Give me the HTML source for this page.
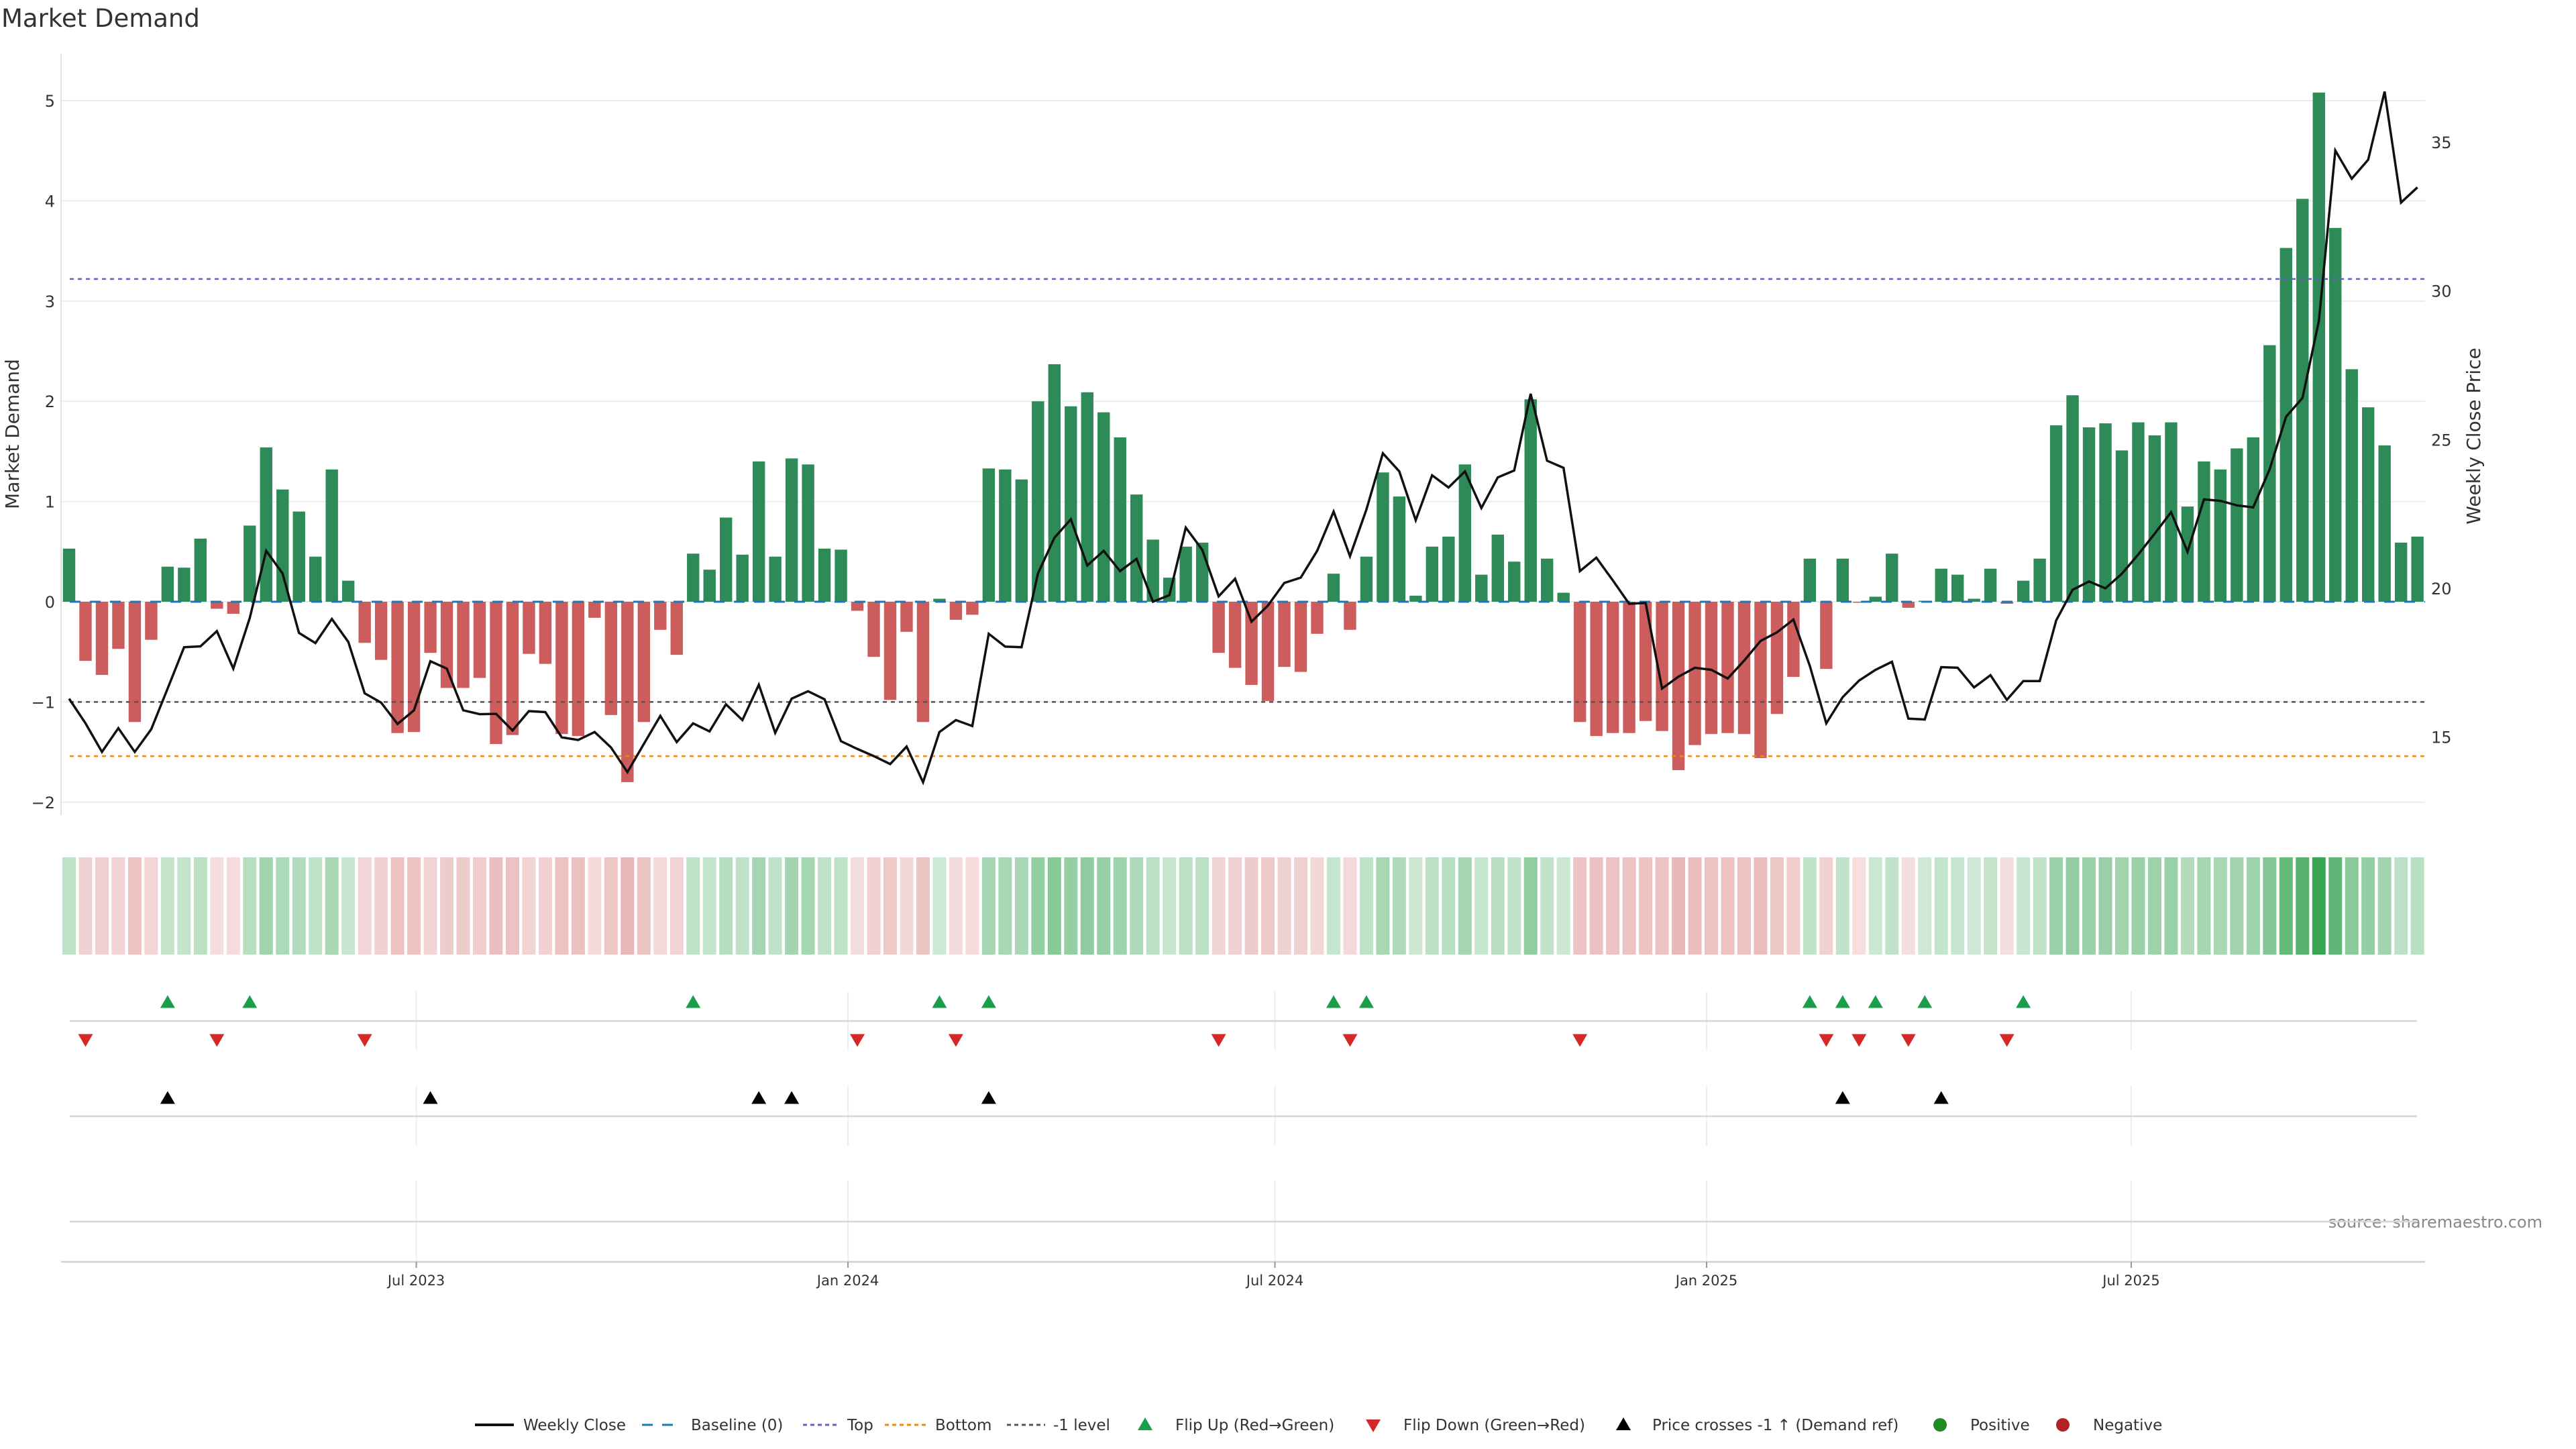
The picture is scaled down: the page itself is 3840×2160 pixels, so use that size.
<!DOCTYPE html>
<html><head><meta charset="utf-8"><title>Market Demand</title>
<style>
html,body{margin:0;padding:0;background:#fff;}
svg{display:block;font-family:"DejaVu Sans","Liberation Sans",sans-serif;}
</style></head>
<body>
<svg id="chart" width="3840" height="2160" viewBox="0 0 3840 2160" xmlns="http://www.w3.org/2000/svg">
<rect width="3840" height="2160" fill="#fff"/>
<text x="2" y="40" font-size="37" fill="#333">Market Demand</text>
<text transform="translate(28,647) rotate(-90)" text-anchor="middle" font-size="28" fill="#333">Market Demand</text>
<text transform="translate(3697,650) rotate(-90)" text-anchor="middle" font-size="28" fill="#333">Weekly Close Price</text>
<text x="3790" y="1830" text-anchor="end" font-size="24" fill="#888">source: sharemaestro.com</text>
<g id="grid"></g><g id="lower"></g><g id="bars"></g><g id="refs"></g><g id="line"></g><g id="heat"></g><g id="marks"></g><g id="axes"></g>
<g id="legend"></g>
</svg>
<script>
const demandValues = [0.53,-0.59,-0.73,-0.47,-1.2,-0.38,0.35,0.34,0.63,-0.07,
-0.12,0.76,1.54,1.12,0.9,0.45,1.32,0.21,-0.41,-0.58,
-1.31,-1.3,-0.51,-0.86,-0.86,-0.76,-1.42,-1.33,-0.52,-0.62,
-1.32,-1.34,-0.16,-1.13,-1.8,-1.2,-0.28,-0.53,0.48,0.32,
0.84,0.47,1.4,0.45,1.43,1.37,0.53,0.52,-0.09,-0.55,
-0.98,-0.3,-1.2,0.03,-0.18,-0.13,1.33,1.32,1.22,2.0,
2.37,1.95,2.09,1.89,1.64,1.07,0.62,0.24,0.55,0.59,
-0.51,-0.66,-0.83,-0.99,-0.65,-0.7,-0.32,0.28,-0.28,0.45,
1.29,1.05,0.06,0.55,0.65,1.37,0.27,0.67,0.4,2.02,
0.43,0.09,-1.2,-1.34,-1.31,-1.31,-1.19,-1.29,-1.68,-1.43,
-1.32,-1.31,-1.32,-1.56,-1.12,-0.75,0.43,-0.67,0.43,-0.01,
0.05,0.48,-0.06,0.01,0.33,0.27,0.03,0.33,-0.02,0.21,
0.43,1.76,2.06,1.74,1.78,1.51,1.79,1.66,1.79,0.95,
1.4,1.32,1.53,1.64,2.56,3.53,4.02,5.08,3.73,2.32,
1.94,1.56,0.59,0.65];
const closePrices = [16.29,15.46,14.5,15.3,14.5,15.26,16.63,18.02,18.05,18.56,
17.3,19.0,21.26,20.5,18.5,18.16,18.97,18.2,16.47,16.16,
15.44,15.9,17.55,17.3,15.9,15.77,15.78,15.22,15.87,15.84,
14.99,14.9,15.17,14.65,13.82,14.77,15.71,14.83,15.46,15.19,
16.1,15.57,16.76,15.14,16.29,16.54,16.27,14.86,14.6,14.36,
14.09,14.68,13.48,15.17,15.57,15.37,18.47,18.04,18.02,20.5,
21.7,22.32,20.77,21.26,20.58,20.99,19.55,19.77,22.04,21.3,
19.73,20.32,18.88,19.42,20.18,20.36,21.26,22.58,21.08,22.65,
24.54,23.93,22.29,23.8,23.39,23.93,22.7,23.73,23.96,26.54,
24.29,24.05,20.58,21.03,20.27,19.48,19.51,16.63,17.03,17.33,
17.26,16.97,17.57,18.23,18.52,18.95,17.39,15.46,16.34,16.9,
17.26,17.53,15.62,15.59,17.35,17.33,16.67,17.08,16.25,16.88,
16.88,18.92,19.95,20.23,20.0,20.49,21.14,21.84,22.56,21.23,
22.99,22.94,22.79,22.72,24.0,25.77,26.4,29.0,34.72,33.77,
34.41,36.7,32.97,33.48];
const startDate = "2023-02-03";
const leftTicks = [-2,-1,0,1,2,3,4,5];
const rightTicks = [15,20,25,30,35];
const dateTicks = ["2023-07-01","2024-01-01","2024-07-01","2025-01-01","2025-07-01"];
const dateTickLabels = ["Jul 2023","Jan 2024","Jul 2024","Jan 2025","Jul 2025"];
const topLevel = 3.22, bottomLevel = -1.54, minusLevel = -1, baseLevel = 0;

const NS="http://www.w3.org/2000/svg";
function mk(parent,tag,attrs,text){const e=document.createElementNS(NS,tag);for(const k in attrs)e.setAttribute(k,attrs[k]);if(text!==undefined)e.textContent=text;document.getElementById(parent).appendChild(e);return e;}
const X0=103, DX=24.48;
const xIdx=i=>X0+i*DX;
const DAY=86400000, t0=Date.parse(startDate);
const xDate=d=>xIdx((Date.parse(d)-t0)/DAY/7);
const yL=v=>897-v*149.4;
const yR=p=>877-(p-20)*44.34;
const pFromY=y=>20-(y-877)/44.34;
const PL=91, PR=3615, LR=3603;

leftTicks.forEach(t=>{
  let g=mk('grid','line',{x1:PL,x2:PR,y1:yL(t),y2:yL(t),stroke:'#ececec','stroke-width':2});
  
  
  let l=mk('axes','text',{x:82,y:yL(t)+9,'text-anchor':'end','font-size':24,fill:'#333'},(t<0?'\u2212':'')+Math.abs(t));
  
  
});
rightTicks.forEach(t=>{
  let l=mk('axes','text',{x:3624,y:yR(t)+9,'font-size':24,fill:'#333'},String(t));
  
  
});
let ax=mk('axes','line',{x1:PL,x2:PL,y1:80,y2:1215,stroke:'#e0e0e0','stroke-width':2});



demandValues.forEach((v,i)=>{
  const y0=yL(0), y1=yL(v);
  let r=mk('bars','rect',{x:xIdx(i)-9.2,width:18.4,y:Math.min(y0,y1),height:Math.max(1,Math.abs(y1-y0)),fill:v>=0?'#2e8b57':'#cd5c5c'});
  
  
});
[[baseLevel,'#1f77b4','16,14','baseline-zero',3],[topLevel,'#6a5acd','6,6','top-level-line',2.5],[bottomLevel,'#f08a0c','6,6','bottom-level-line',2.5],[minusLevel,'#555','6,6','minus-one-level-line',2.5]].forEach(r=>{
  let l=mk('refs','line',{x1:104,x2:PR,y1:yL(r[0]),y2:yL(r[0]),stroke:r[1],'stroke-dasharray':r[2],'stroke-width':r[4]});
  
  
});
let pts=closePrices.map((p,i)=>xIdx(i).toFixed(1)+','+yR(p).toFixed(1)).join(' ');
let pl=mk('line','polyline',{points:pts,fill:'none',stroke:'#111','stroke-width':3.5,'stroke-linejoin':'miter'});



demandValues.forEach((v,i)=>{
  let fill;
  if(v>=0){const a=Math.min(1,0.25+0.15*v);fill=`rgba(58,165,85,${a.toFixed(3)})`;}
  else{const a=Math.min(1,0.2+0.14*(-v));fill=`rgba(205,95,95,${a.toFixed(3)})`;}
  let r=mk('heat','rect',{x:xIdx(i)-10,width:20,y:1278,height:145,fill:fill});
  
  
});

[[1478,1566],[1618,1708],[1760,1879]].forEach(s=>{
  dateTicks.forEach(d=>{
    let l=mk('lower','line',{x1:xDate(d),x2:xDate(d),y1:s[0],y2:s[1],stroke:'#eeeeee','stroke-width':2});
    
    
  });
});
[1522,1664,1821].forEach(y=>{
  let l=mk('lower','line',{x1:104,x2:LR,y1:y,y2:y,stroke:'#d6d6d6','stroke-width':2.5});
  
  
});
let bx=mk('axes','line',{x1:PL,x2:PR,y1:1881,y2:1881,stroke:'#d0d0d0','stroke-width':2.5});


dateTicks.forEach((d,k)=>{
  let t=mk('axes','line',{x1:xDate(d),x2:xDate(d),y1:1881,y2:1890,stroke:'#999','stroke-width':2});
  
  
  let l=mk('axes','text',{x:xDate(d),y:1916,'text-anchor':'middle','font-size':21,fill:'#333'},dateTickLabels[k]);
  
  
});
function tri(x,y,up,color,name){
  const w=11,h=19;
  const p=up?`${x-w},${y+h/2} ${x+w},${y+h/2} ${x},${y-h/2}`:`${x-w},${y-h/2} ${x+w},${y-h/2} ${x},${y+h/2}`;
  let e=mk('marks','polygon',{points:p,fill:color});
  
  
}
const crossLevel=pFromY(yL(minusLevel));
for(let i=1;i<demandValues.length;i++){
  if(demandValues[i-1]<0&&demandValues[i]>=0) tri(xIdx(i),1493,true,'#1a9e4a','flip-up-marker');
  if(demandValues[i-1]>=0&&demandValues[i]<0) tri(xIdx(i),1551,false,'#d62728','flip-down-marker');
  if(closePrices[i-1]<crossLevel&&closePrices[i]>=crossLevel) tri(xIdx(i),1636,true,'#000','price-cross-marker');
}

const LY=2124;
function lg(tag,attrs,name){let e=mk('legend',tag,attrs);return e;}
function lt(x,s){let e=mk('legend','text',{x:x,y:LY+8,'font-size':23,fill:'#333'},s);}
lg('line',{x1:708,x2:766,y1:LY,y2:LY,stroke:'#111','stroke-width':4},'legend-weekly-close');lt(780,'Weekly Close');
lg('line',{x1:957,x2:1015,y1:LY,y2:LY,stroke:'#1f77b4','stroke-width':3,'stroke-dasharray':'16,14'},'legend-baseline');lt(1030,'Baseline (0)');
lg('line',{x1:1197,x2:1250,y1:LY,y2:LY,stroke:'#6a5acd','stroke-width':3,'stroke-dasharray':'6,5'},'legend-top');lt(1263,'Top');
lg('line',{x1:1319,x2:1380,y1:LY,y2:LY,stroke:'#f08a0c','stroke-width':3,'stroke-dasharray':'6,5'},'legend-bottom');lt(1394,'Bottom');
lg('line',{x1:1501,x2:1558,y1:LY,y2:LY,stroke:'#555','stroke-width':3,'stroke-dasharray':'6,5'},'legend-minus-one');lt(1570,'-1 level');
lg('polygon',{points:`1696,${LY+8} 1718,${LY+8} 1707,${LY-11}`,fill:'#1a9e4a'},'legend-flip-up');lt(1752,'Flip Up (Red\u2192Green)');
lg('polygon',{points:`2036,${LY-8} 2058,${LY-8} 2047,${LY+11}`,fill:'#d62728'},'legend-flip-down');lt(2092,'Flip Down (Green\u2192Red)');
lg('polygon',{points:`2409,${LY+8} 2431,${LY+8} 2420,${LY-11}`,fill:'#000'},'legend-price-cross');lt(2463,'Price crosses -1 \u2191 (Demand ref)');
lg('circle',{cx:2892,cy:LY,r:10,fill:'#228b22'},'legend-positive');lt(2937,'Positive');
lg('circle',{cx:3075,cy:LY,r:10,fill:'#b22222'},'legend-negative');lt(3120,'Negative');
</script>
</body></html>
